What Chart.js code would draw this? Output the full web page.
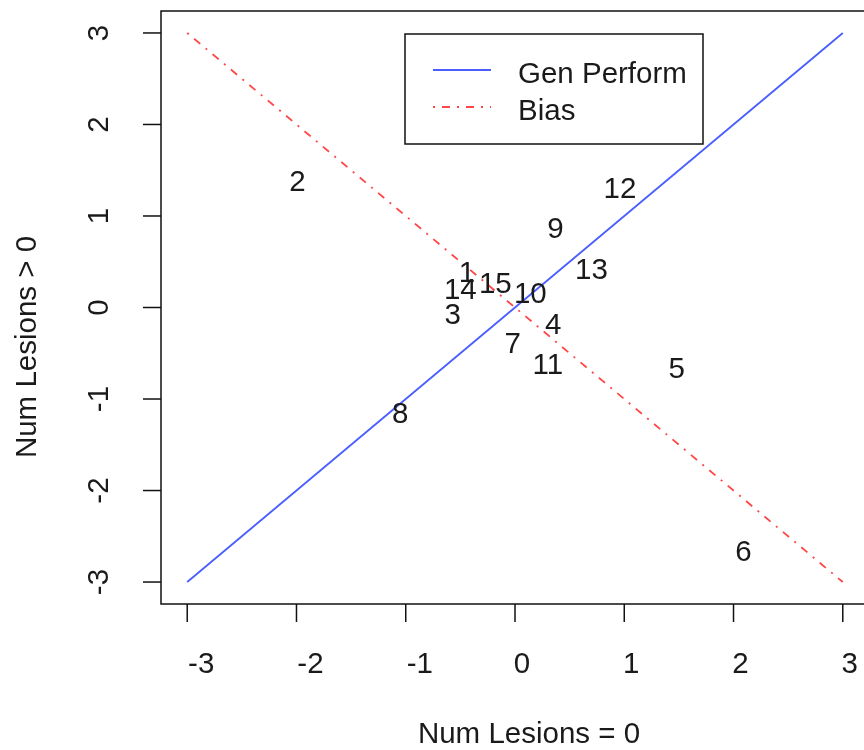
<!DOCTYPE html>
<html>
<head>
<meta charset="utf-8">
<script src="https://cdn.jsdelivr.net/npm/chart.js@4"></script>
<style>
  html, body { margin: 0; padding: 0; background: #fff; overflow: hidden; }
  #wrap { width: 880px; height: 750px; }
</style>
</head>
<body>
<div id="wrap"><canvas id="chart" width="880" height="750"></canvas></div>
<script>
// dados
const ptLabels = ['1', '2', '3', '4', '5', '6', '7', '8', '9', '10', '11', '12', '13', '14', '15'];
const ptX = [-0.44, -1.99, -0.57, 0.35, 1.48, 2.09, -0.02, -1.05, 0.37, 0.14, 0.30, 0.96, 0.70, -0.50, -0.18];
const ptY = [0.39, 1.39, -0.06, -0.17, -0.66, -2.65, -0.38, -1.15, 0.87, 0.16, -0.61, 1.31, 0.43, 0.21, 0.27];

const genX = [-3, 3];
const genY = [-3, 3];
const biasX = [-3, 3];
const biasY = [3, -3];

const xTicks = [-3, -2, -1, 0, 1, 2, 3];
const yTicks = [-3, -2, -1, 0, 1, 2, 3];

const seriesNames = ['Gen Perform', 'Bias'];
const xTitle = 'Num Lesions = 0';
const yTitle = 'Num Lesions > 0';

const FSIZE = 29.5;
const FONT = FSIZE + 'px "Liberation Sans", Arial, sans-serif';
const TXT = '#1a1a1a';
const CAP = FSIZE * 0.358; // meia altura dos algarismos

const toXY = (xs, ys) => xs.map((v, i) => ({ x: v, y: ys[i] }));

// desenha caixa, eixos, legenda e rótulos no estilo R
const rStyle = {
  id: 'rStyle',
  afterDraw(chart) {
    const { ctx, chartArea: a, scales: { x, y } } = chart;
    ctx.save();
    ctx.strokeStyle = '#111';
    ctx.lineWidth = 1.5;
    ctx.strokeRect(a.left, a.top, a.right - a.left, a.bottom - a.top);

    ctx.font = FONT;
    ctx.fillStyle = TXT;
    ctx.textAlign = 'center';
    ctx.textBaseline = 'alphabetic';

    // eixo x
    xTicks.forEach(v => {
      const px = x.getPixelForValue(v);
      ctx.beginPath();
      ctx.moveTo(px, a.bottom);
      ctx.lineTo(px, a.bottom + 18);
      ctx.stroke();
      const shift = v < 0 ? 14 : 7;
      ctx.fillText(String(v), px + shift, 662 + CAP);
    });

    // eixo y (rótulos rotacionados)
    yTicks.forEach(v => {
      const py = y.getPixelForValue(v);
      ctx.beginPath();
      ctx.moveTo(a.left - 18, py);
      ctx.lineTo(a.left, py);
      ctx.stroke();
      ctx.save();
      ctx.translate(97, py);
      ctx.rotate(-Math.PI / 2);
      ctx.fillText(String(v), 0, CAP);
      ctx.restore();
    });

    // títulos
    ctx.fillText(xTitle, 529, 732 + CAP);
    ctx.save();
    ctx.translate(25, 347);
    ctx.rotate(-Math.PI / 2);
    ctx.fillText(yTitle, 0, CAP);
    ctx.restore();

    // números dos pontos
    const meta = chart.getDatasetMeta(2);
    meta.data.forEach((el, i) => {
      ctx.fillText(ptLabels[i], el.x, el.y + CAP);
    });

    // legenda
    ctx.strokeStyle = '#111';
    ctx.lineWidth = 1.5;
    ctx.setLineDash([]);
    ctx.strokeRect(405, 34, 298, 110);
    const rows = [72, 109];
    [0, 1].forEach(i => {
      const ds = chart.data.datasets[i];
      ctx.strokeStyle = ds.borderColor;
      ctx.lineWidth = ds.borderWidth;
      ctx.setLineDash(ds.borderDash || []);
      ctx.beginPath();
      ctx.moveTo(433, rows[i] - 2);
      ctx.lineTo(491, rows[i] - 2);
      ctx.stroke();
      ctx.setLineDash([]);
      ctx.textAlign = 'left';
      ctx.fillStyle = TXT;
      ctx.fillText(seriesNames[i], 518, rows[i] + CAP);
    });
    ctx.restore();
  }
};

new Chart(document.getElementById('chart'), {
  type: 'scatter',
  data: {
    datasets: [
      {
        label: seriesNames[0],
        data: toXY(genX, genY),
        showLine: true,
        borderColor: '#4a5eff',
        borderWidth: 1.8,
        pointRadius: 0
      },
      {
        label: seriesNames[1],
        data: toXY(biasX, biasY),
        showLine: true,
        borderColor: '#ff4646',
        borderWidth: 1.8,
        borderDash: [2, 7, 8, 7],
        pointRadius: 0
      },
      {
        label: 'pontos',
        data: toXY(ptX, ptY),
        pointRadius: 0,
        pointHoverRadius: 0
      }
    ]
  },
  options: {
    responsive: false,
    animation: false,
    events: [],
    layout: { padding: { left: 161, right: 11, top: 11, bottom: 146 } },
    plugins: { legend: { display: false }, tooltip: { enabled: false } },
    scales: {
      x: { type: 'linear', min: -3.24, max: 3.24, display: false },
      y: { type: 'linear', min: -3.24, max: 3.24, display: false }
    }
  },
  plugins: [rStyle]
});
</script>
</body>
</html>
